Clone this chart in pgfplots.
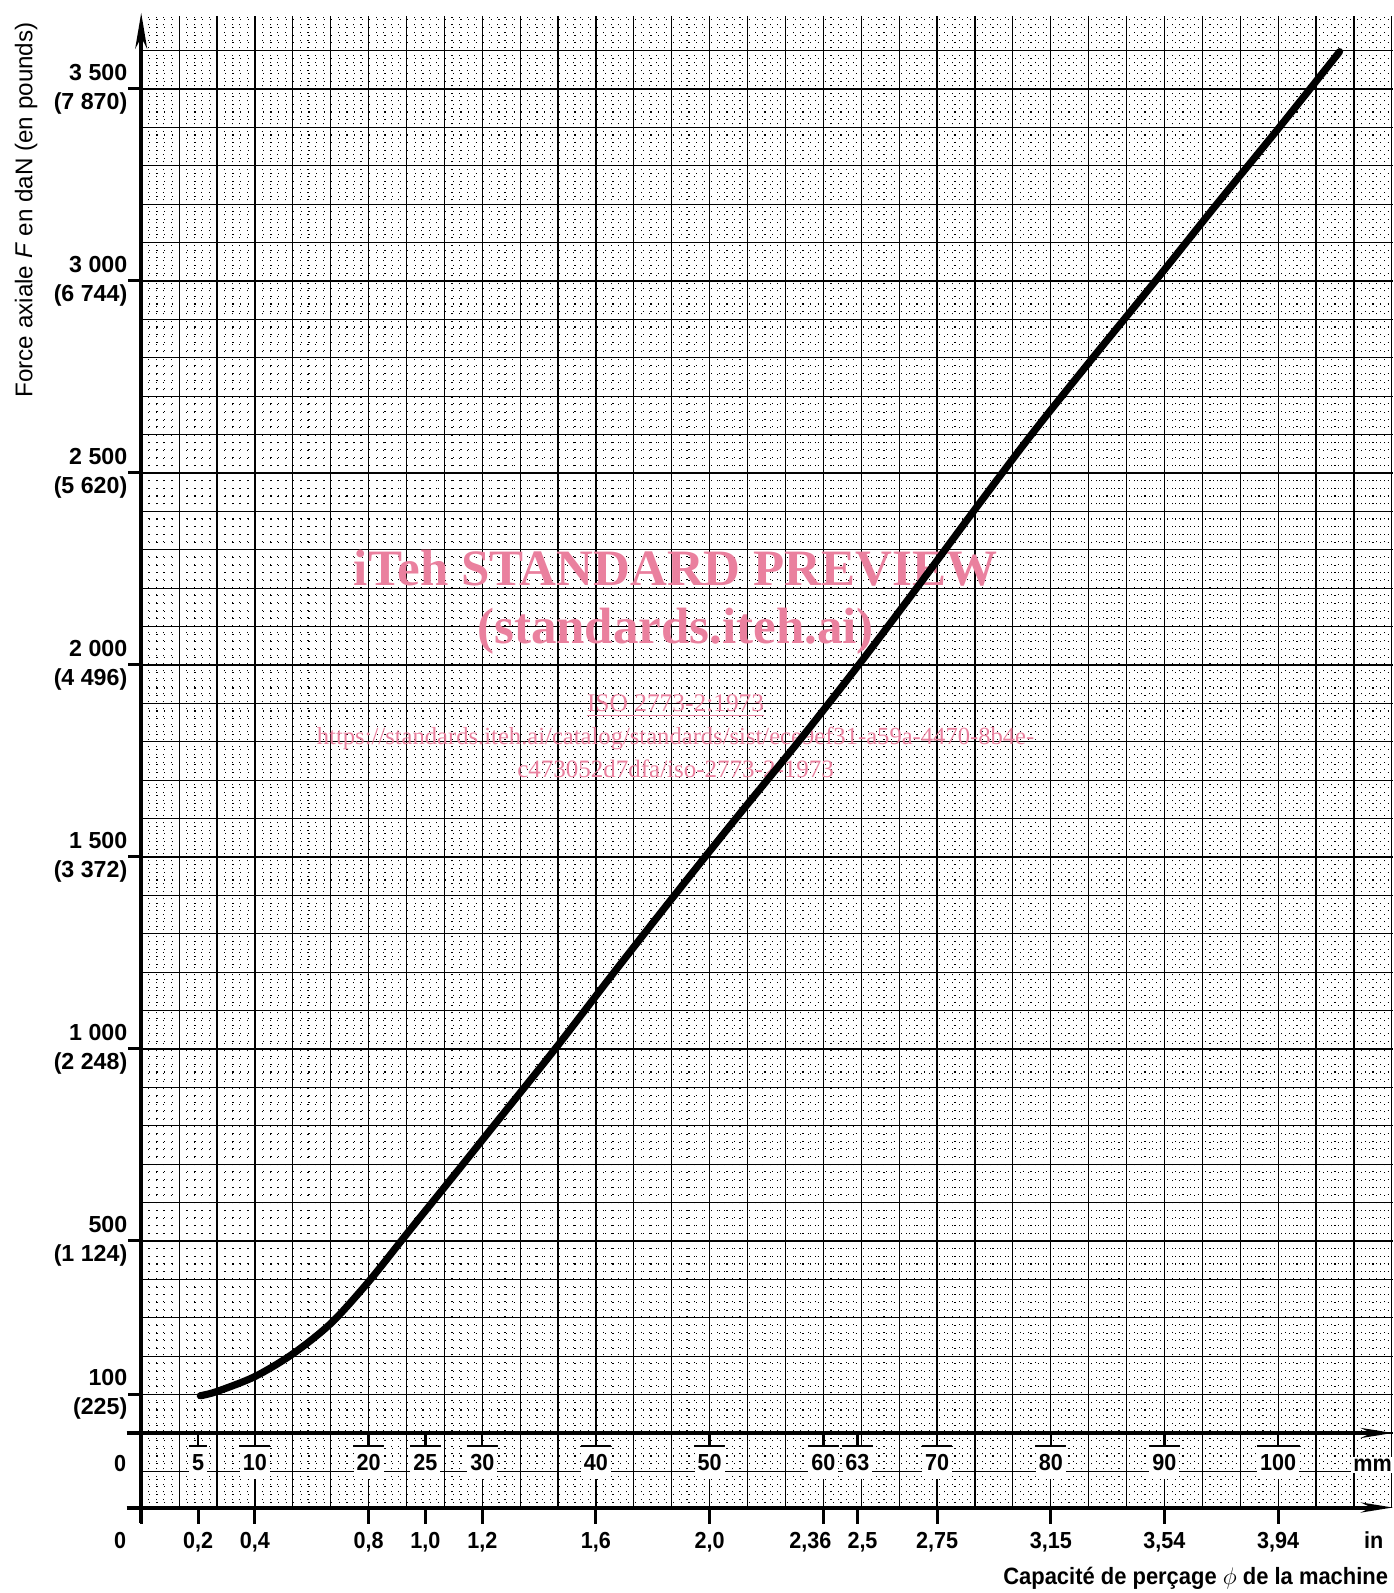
\documentclass[border=0pt]{standalone}
\usepackage{fontspec}
\setmainfont{Liberation Sans}
\newfontfamily\wmfont{Liberation Serif}
\newfontfamily\cond[FakeStretch=0.93]{Liberation Sans}
\usepackage{pgfplots}
\pgfplotsset{compat=1.18}
\usetikzlibrary{arrows.meta}
\definecolor{wm}{RGB}{234,128,158}
\newcommand\lbl{\fontsize{11.6}{14.5}\selectfont\bfseries}
\newcommand\clbl{\cond\fontsize{11.6}{14.5}\selectfont\bfseries}
\newcommand\mmtick[3]{%
  \draw[line width=1.2pt] (axis cs:#1,0) -- (axis cs:#1,-33.1);
  \node[anchor=north, fill=white, inner xsep=1.5pt, inner ysep=4pt, font=\clbl] (#3) at (axis cs:#1,-33.1) {#2};
  \draw[line width=1pt] (#3.north west) -- (#3.north east);
}
\newcommand\inlbl[2]{\node[font=\clbl, anchor=base] at (axis cs:#1,-300.3) {#2};}
\begin{document}
\begin{tikzpicture}
\useasboundingbox (-70.6pt,-42.75pt) rectangle (625.9pt,753.75pt);
% graph paper
\begin{axis}[
  at={(0,0)}, anchor=south west,
  scale only axis, width=625.9pt, height=745.75pt,
  xmin=0, xmax=110.1, ymin=-194, ymax=3690,
  axis line style={draw=none},
  xtick distance=3.333333, ytick distance=100,
  minor x tick num=4, minor y tick num=4,
  xticklabels={}, yticklabels={},
  major tick length=0pt, minor tick length=0pt,
  grid=both,
  major grid style={black, line width=0.6pt},
  minor grid style={black, line width=0.55pt, dash pattern=on 0.55pt off 3.25pt},
]
\addplot[draw=none] coordinates {(0,0)};
\end{axis}
% chart
\begin{axis}[
  at={(0,0)}, anchor=south west,
  scale only axis, width=625.9pt, height=745.75pt,
  xmin=0, xmax=110.1, ymin=-194, ymax=3690,
  axis line style={draw=none},
  clip=false,
  xtick={0,5,10,20,25,30,40,50,60,63,70,80,90,100},
  xticklabels={},
  ytick={100,500,1000,1500,2000,2500,3000,3500},
  yticklabels={{100\\(225)},{500\\(1 124)},{1 000\\(2 248)},{1 500\\(3 372)},{2 000\\(4 496)},{2 500\\(5 620)},{3 000\\(6 744)},{3 500\\(7 870)}},
  xtick pos=bottom, ytick pos=left,
  tick align=outside,
  xtick style={black, line width=1.5pt, /pgfplots/major tick length=8pt},
  ytick style={black, line width=1.5pt, /pgfplots/major tick length=6.5pt},
  yticklabel style={font=\lbl, align=right, inner xsep=2.5pt},
]
% watermark
\node[text=wm, anchor=base, font={\wmfont\bfseries\fontsize{25.5}{30}\selectfont}] at (axis cs:47.0,2205.7) {iTeh STANDARD PREVIEW};
\node[text=wm, anchor=base, font={\wmfont\bfseries\fontsize{25.5}{30}\selectfont}] at (axis cs:47.0,2057) {(standards.iteh.ai)};
\node[text=wm, anchor=base, font={\wmfont\fontsize{12.7}{15}\selectfont}] at (axis cs:47.0,1877.6) {\underline{ISO 2773-2:1973}};
\node[text=wm, anchor=base, font={\wmfont\fontsize{12.3}{15}\selectfont}] at (axis cs:47.0,1792) {https://standards.iteh.ai/catalog/standards/sist/ece9ef31-a59a-4470-8b4e-};
\node[text=wm, anchor=base, font={\wmfont\fontsize{12.5}{15}\selectfont}] at (axis cs:47.0,1708) {c473052d7dfa/iso-2773-2-1973};
% axes
\draw[line width=1.8pt, -{Stealth[length=18pt,width=6pt]}] (axis cs:0,-234) -- (axis cs:0,3698);
\draw[line width=2pt, -{Stealth[length=16pt,width=5pt]}] (axis cs:-1.28,0) -- (axis cs:110.1,0);
\draw[line width=2pt, -{Stealth[length=16pt,width=5pt]}] (axis cs:-1.28,-194) -- (axis cs:110.1,-194);
% mm scale
\mmtick{5}{5}{ma}
\mmtick{10}{10}{mb}
\mmtick{20}{20}{mc}
\mmtick{25}{25}{md}
\mmtick{30}{30}{me}
\mmtick{40}{40}{mf}
\mmtick{50}{50}{mg}
\mmtick{60}{60}{mh}
\mmtick{63}{63}{mi}
\mmtick{70}{70}{mj}
\mmtick{80}{80}{mk}
\mmtick{90}{90}{ml}
\mmtick{100}{100}{mm}
\node[font=\clbl, anchor=base, fill=white, inner sep=1pt] at (axis cs:108.3,-99) {mm};
\node[font=\clbl, anchor=base] at (axis cs:-1.86,-99) {0};
% inch scale labels
\inlbl{-1.86}{0}
\inlbl{5}{0,2}
\inlbl{10}{0,4}
\inlbl{20}{0,8}
\inlbl{25}{1,0}
\inlbl{30}{1,2}
\inlbl{40}{1,6}
\inlbl{50}{2,0}
\inlbl{58.86}{2,36}
\inlbl{63.44}{2,5}
\inlbl{70}{2,75}
\inlbl{80}{3,15}
\inlbl{90}{3,54}
\inlbl{100}{3,94}
\inlbl{108.4}{in}
% labels
\node[rotate=90, anchor=base east, inner sep=0pt, font={\fontsize{12.1}{14}\selectfont}] at (axis cs:-9.58,3674.5) {Force axiale \textit{F} en daN (en pounds)};
\node[anchor=base east, inner sep=0pt, font={\cond\fontsize{11.8}{13}\selectfont\bfseries}] at (axis cs:109.7,-395.8) {Capacité de perçage $\phi$ de la machine};
% curve
\addplot[black, line width=3.6pt, smooth, line cap=round] coordinates {
(5.2,97) (6.65,108) (10,147) (13.33,206) (16.7,286) (20,394) (23.4,520) (26.7,641)
(28.3,700) (31.0,800) (36.4,1000) (41.6,1200) (46.9,1400) (52.3,1600)
(57.8,1800) (63.1,2000) (68.2,2200) (73.2,2400)
(78.3,2600) (83.7,2800) (89.2,3000) (94.6,3200)
(100.1,3400) (105.4,3597)
};
\end{axis}
\end{tikzpicture}
\end{document}
